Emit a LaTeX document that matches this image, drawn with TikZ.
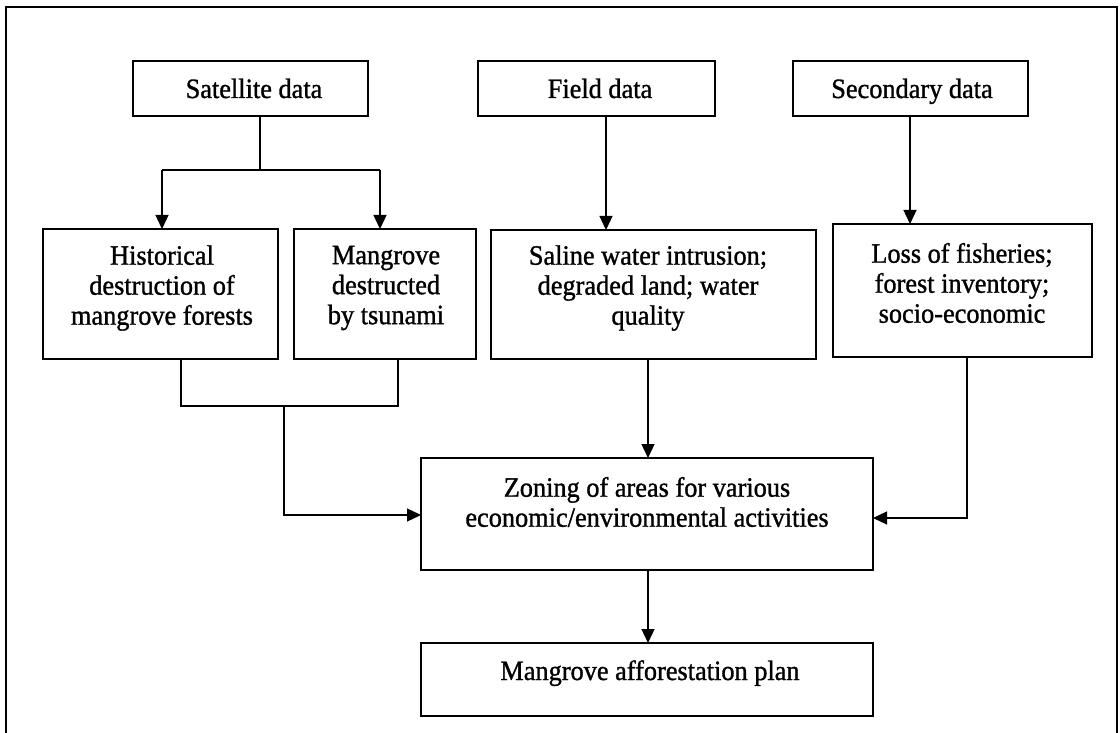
\documentclass[tikz,border=0pt]{standalone}
\usepackage{fontspec}
\setmainfont{Liberation Serif}[FakeStretch=0.94,FakeBold=1.1]
\usetikzlibrary{arrows.meta}
\tikzset{
  box/.style={draw, line width=1.6pt, inner sep=0pt, outer sep=0pt},
  lbl/.style={align=center, inner sep=0pt, font=\fontsize{28}{30}\selectfont},
  conn/.style={line width=1.3pt},
  arr/.style={line width=1.3pt, -{Triangle[length=14pt,width=13pt]}},
  frame/.style={line width=1.5pt}
}
\begin{document}
\begin{tikzpicture}[x=1pt,y=-1pt]
\useasboundingbox (0,0) rectangle (1120,733);
% outer frame (left, top, right)
\coordinate (fbl) at (6,733);
\coordinate (ftl) at (6,7);
\coordinate (ftr) at (1117,7);
\coordinate (fbr) at (1117,733);
\draw[frame] (fbl) -- (ftl) -- (ftr) -- (fbr);
% boxes
\node[box, minimum width=235pt, minimum height=55pt] (sat) at (250.5,88.5) {};
\node[box, minimum width=237pt, minimum height=55pt] (field) at (596.5,88.5) {};
\node[box, minimum width=235pt, minimum height=55pt] (sec) at (910.5,88.5) {};
\node[box, minimum width=235pt, minimum height=130pt] (hist) at (160.5,294) {};
\node[box, minimum width=182pt, minimum height=130pt] (mang) at (385,294) {};
\node[box, minimum width=325pt, minimum height=129pt] (sal) at (653.5,294.5) {};
\node[box, minimum width=259pt, minimum height=133pt] (loss) at (962.5,290.5) {};
\node[box, minimum width=452pt, minimum height=112pt] (zone) at (647,514) {};
\node[box, minimum width=452pt, minimum height=73pt] (plan) at (647,679.5) {};
% texts
\node[lbl, anchor=base] (satT) at (254,98) {Satellite data};
\node[lbl, anchor=base] (fieldT) at (600,98) {Field data};
\node[lbl, anchor=base] (secT) at (912,98) {Secondary data};
\node[lbl] (histT) at (162,288) {Historical\\destruction of\\mangrove forests};
\node[lbl] (mangT) at (386,288) {Mangrove\\destructed\\by tsunami};
\node[lbl] (salT) at (648,288) {Saline water intrusion;\\degraded land; water\\quality};
\node[lbl] (lossT) at (962,283) {Loss of fisheries;\\forest inventory;\\socio-economic};
\node[lbl] (zoneT) at (647,502) {Zoning of areas for various\\economic/environmental activities};
\node[lbl, anchor=base] (planT) at (650,680) {Mangrove afforestation plan};
% satellite split
\coordinate (split) at (260,170);
\coordinate (sl) at (162,170);
\coordinate (sr) at (380,170);
\draw[conn] (split |- sat.south) -- (split);
\draw[conn] (sl) -- (sr);
\draw[arr] (sl) -- (sl |- hist.north);
\draw[arr] (sr) -- (sr |- mang.north);
% field and secondary
\coordinate (fa) at (606,0);
\draw[arr] (fa |- field.south) -- (fa |- sal.north);
\coordinate (sa) at (910,0);
\draw[arr] (sa |- sec.south) -- (sa |- loss.north);
% merge of historical and mangrove
\coordinate (ml) at (181,406);
\coordinate (mr) at (398,406);
\coordinate (mm) at (284,406);
\coordinate (mbend) at (284,515);
\draw[conn] (ml |- hist.south) -- (ml) -- (mr) -- (mr |- mang.south);
\draw[arr] (mm) -- (mbend) -- (mbend -| zone.west);
% saline to zoning
\coordinate (za) at (648,0);
\draw[arr] (za |- sal.south) -- (za |- zone.north);
% loss to zoning
\coordinate (lb) at (967,518);
\draw[arr] (lb |- loss.south) -- (lb) -- (lb -| zone.east);
% zoning to plan
\draw[arr] (za |- zone.south) -- (za |- plan.north);
\end{tikzpicture}
\end{document}
